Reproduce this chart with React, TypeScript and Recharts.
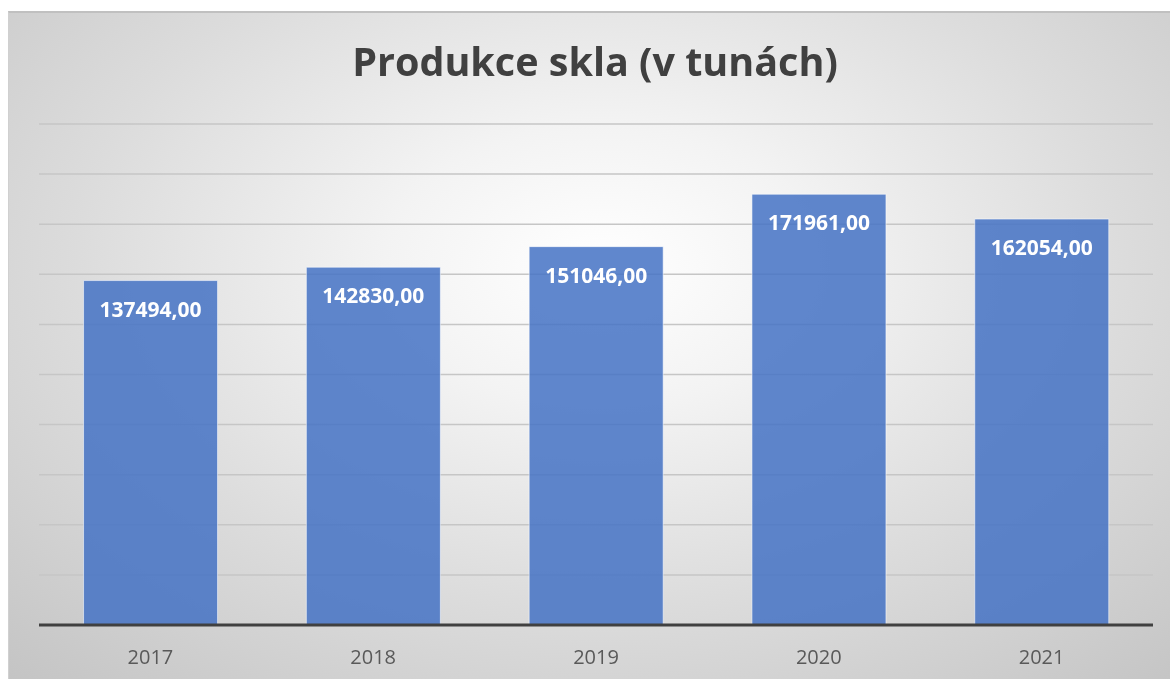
import { BarChart, Bar, XAxis, YAxis, CartesianGrid, LabelList } from 'recharts'

const years = ['2017', '2018', '2019', '2020', '2021']
const production = [137494, 142830, 151046, 171961, 162054]
const gridTicks = [0, 20000, 40000, 60000, 80000, 100000, 120000, 140000, 160000, 180000, 200000]

const data = years.map((year, i) => ({ year, value: production[i] }))

const fmt = (v: number) => v.toFixed(2).replace('.', ',')

function ValueLabel(props: any) {
  const { x, y, width, value } = props
  return (
    <text
      x={x + width / 2}
      y={y + 28}
      textAnchor="middle"
      dominantBaseline="central"
      fill="#ffffff"
      fontSize={21}
      fontWeight={700}
      fontFamily="'Open Sans', sans-serif"
    >
      {fmt(value)}
    </text>
  )
}

export default function App() {
  return (
    <div
      style={{
        position: 'fixed', left: 8, top: 11, width: 1162, height: 668,
        background: 'radial-gradient(ellipse 75% 85% at 51% 38%, #ffffff 0%, #f3f3f3 25%, #dcdcdc 60%, #c4c4c4 100%)',
        borderTop: '2px solid #c0c0c0', borderLeft: '1px solid #d0d0d0', boxSizing: 'border-box',
      }}
    >
      <div
        style={{
          position: 'absolute', top: 21, left: 0, width: 1172, textAlign: 'center',
          fontFamily: "'Open Sans', sans-serif", fontWeight: 700, fontSize: 39.5,
          color: '#404040',
        }}
      >
        Produkce skla (v tunách)
      </div>
      <div style={{ position: 'absolute', left: 0, top: -2 }}>
        <BarChart
          width={1162}
          height={668}
          data={data}
          margin={{ top: 113, right: 18, bottom: 0, left: 30 }}
          barCategoryGap="20%"
        >
          <CartesianGrid vertical={false} stroke="#c6c6c6" strokeWidth={1.5} />
          <YAxis hide domain={[0, 200000]} ticks={gridTicks} />
          <XAxis
            dataKey="year"
            height={54}
            axisLine={{ stroke: '#404040', strokeWidth: 3 }}
            tickLine={false}
            tick={{ fill: '#595959', fontSize: 20, fontFamily: "'Open Sans', sans-serif" }}
            dy={17}
          />
          <Bar
            dataKey="value"
            fill="#4472C4"
            fillOpacity={0.85}
            stroke="#ffffff"
            strokeOpacity={0.55}
            strokeWidth={1}
            isAnimationActive={false}
          >
            <LabelList dataKey="value" content={ValueLabel} />
          </Bar>
        </BarChart>
      </div>
    </div>
  )
}
